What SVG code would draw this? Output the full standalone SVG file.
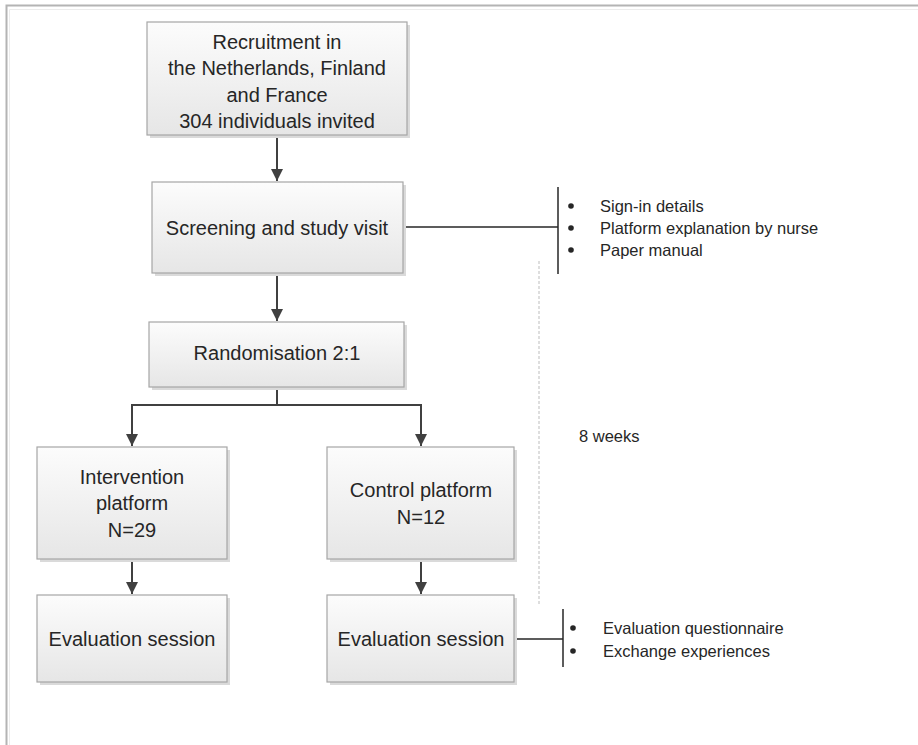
<svg xmlns="http://www.w3.org/2000/svg" width="918" height="745" viewBox="0 0 918 745">
<style>
.box{fill:url(#g);stroke:#a6a6a6;stroke-width:1.2}
.sh{fill:#dadada}
.t{font-family:"Liberation Sans",Arial,sans-serif;font-size:20px;fill:#262626;text-anchor:middle}
.s{font-family:"Liberation Sans",Arial,sans-serif;font-size:16.5px;fill:#262626}
.c{fill:none;stroke:#404040;stroke-width:2}
.b{fill:none;stroke:#262626;stroke-width:1.5}
</style>
<defs>
<linearGradient id="g" x1="0" y1="0" x2="0" y2="1">
<stop offset="0" stop-color="#fcfcfc"/>
<stop offset="1" stop-color="#e6e6e6"/>
</linearGradient>
<marker id="a" markerWidth="12" markerHeight="12" refX="12" refY="6" orient="auto" markerUnits="userSpaceOnUse" viewBox="0 0 12 12">
<path d="M0,0 L12,6 L0,12 Z" fill="#404040"/>
</marker>
</defs>
<rect width="918" height="745" fill="#ffffff"/>
<path d="M6.5,745 V5.5 H918" fill="none" stroke="#b4b4b4" stroke-width="2"/>
<path d="M9.5,745 V9.5 H918" fill="none" stroke="#ececec" stroke-width="1"/>

<g id="connectors">
<line class="c" x1="277" y1="135" x2="277" y2="181" marker-end="url(#a)"/>
<line class="c" x1="277" y1="273" x2="277" y2="321" marker-end="url(#a)"/>
<polyline class="c" points="277,387 277,405 132,405 132,446" marker-end="url(#a)"/>
<polyline class="c" points="277,405 421,405 421,446" marker-end="url(#a)"/>
<line class="c" x1="132" y1="559" x2="132" y2="594" marker-end="url(#a)"/>
<line class="c" x1="421" y1="559" x2="421" y2="594" marker-end="url(#a)"/>
<line class="b" x1="403" y1="227" x2="558" y2="227"/>
<line class="b" x1="558" y1="187" x2="558" y2="274"/>
<line class="b" x1="514" y1="639" x2="563" y2="639"/>
<line class="b" x1="563" y1="609" x2="563" y2="667"/>
<line x1="539" y1="261" x2="539" y2="605" stroke="#c8c8c8" stroke-width="1.2" stroke-dasharray="3,2"/>
</g>

<g id="n1">
<rect class="sh" x="150" y="25" width="260" height="113"/>
<rect class="box" x="147" y="22" width="260" height="113"/>
<text class="t" x="277" y="49">Recruitment in</text>
<text class="t" x="277" y="75">the Netherlands, Finland</text>
<text class="t" x="277" y="102">and France</text>
<text class="t" x="277" y="128">304 individuals invited</text>
</g>

<g id="n2">
<rect class="sh" x="155" y="185" width="251" height="91"/>
<rect class="box" x="152" y="182" width="251" height="91"/>
<text class="t" x="277" y="235">Screening and study visit</text>
</g>

<g id="n2notes">
<circle cx="571" cy="206" r="2.8" fill="#262626"/>
<circle cx="571" cy="228" r="2.8" fill="#262626"/>
<circle cx="571" cy="250" r="2.8" fill="#262626"/>
<text class="s" x="600" y="212">Sign-in details</text>
<text class="s" x="600" y="234">Platform explanation by nurse</text>
<text class="s" x="600" y="256">Paper manual</text>
</g>

<g id="n3">
<rect class="sh" x="152" y="325" width="255" height="65"/>
<rect class="box" x="149" y="322" width="255" height="65"/>
<text class="t" x="277" y="360">Randomisation 2:1</text>
</g>

<g id="n4">
<rect class="sh" x="40" y="450" width="190" height="112"/>
<rect class="box" x="37" y="447" width="190" height="112"/>
<text class="t" x="132" y="484">Intervention</text>
<text class="t" x="132" y="510">platform</text>
<text class="t" x="132" y="537">N=29</text>
</g>

<g id="n5">
<rect class="sh" x="330" y="450" width="187" height="112"/>
<rect class="box" x="327" y="447" width="187" height="112"/>
<text class="t" x="421" y="497">Control platform</text>
<text class="t" x="421" y="524">N=12</text>
</g>

<g id="weeks">
<text class="s" x="579" y="442">8 weeks</text>
</g>

<g id="n6">
<rect class="sh" x="40" y="598" width="190" height="87"/>
<rect class="box" x="37" y="595" width="190" height="87"/>
<text class="t" x="132" y="646">Evaluation session</text>
</g>

<g id="n7">
<rect class="sh" x="330" y="598" width="187" height="87"/>
<rect class="box" x="327" y="595" width="187" height="87"/>
<text class="t" x="421" y="646">Evaluation session</text>
</g>

<g id="n7notes">
<circle cx="573" cy="628" r="2.8" fill="#262626"/>
<circle cx="573" cy="651" r="2.8" fill="#262626"/>
<text class="s" x="603" y="634">Evaluation questionnaire</text>
<text class="s" x="603" y="657">Exchange experiences</text>
</g>
</svg>
